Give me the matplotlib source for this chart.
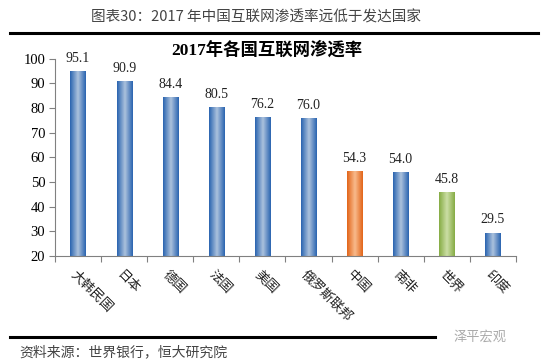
import numpy as np
import matplotlib
matplotlib.use("Agg")
from matplotlib import pyplot as plt
from matplotlib.colors import LinearSegmentedColormap

countries = ["大韩民国", "日本", "德国", "法国", "美国", "俄罗斯联邦", "中国", "南非", "世界", "印度"]
rates = [95.1, 90.9, 84.4, 80.5, 76.2, 76.0, 54.3, 54.0, 45.8, 29.5]
kinds = ["blue"] * 6 + ["orange", "blue", "green", "blue"]
yticks = [20, 30, 40, 50, 60, 70, 80, 90, 100]

palette = {
    "blue": ("#2a64b0", "#a9c0dc"),
    "orange": ("#e2651a", "#f8b98a"),
    "green": ("#86ac45", "#cadda3"),
}

cjk = ["Noto Sans CJK SC", "DejaVu Sans"]
serif = ["Liberation Serif", "Noto Sans CJK SC"]

fig = plt.figure(figsize=(5.5, 3.62), dpi=100)
ax = fig.add_axes([0.1, 0.293, 0.838, 0.545])

base = yticks[0]
x = np.arange(len(countries))
width = 0.33
heights = [v - base for v in rates]
bars = ax.bar(x, heights, width=width, bottom=base, color="none", zorder=2)
grad = np.abs(np.linspace(-1, 1, 64)).reshape(1, -1)
for b, kind in zip(bars, kinds):
    edge, mid = palette[kind]
    cmap = LinearSegmentedColormap.from_list(kind, [mid, edge])
    im = ax.imshow(grad, cmap=cmap, aspect="auto", zorder=2,
                   extent=[b.get_x(), b.get_x() + b.get_width(), b.get_y(), b.get_y() + b.get_height()])
    im.set_clip_path(b)

for xi, v in zip(x, rates):
    ax.text(xi, v + 2.5, f"{v:.1f}", ha="center", va="bottom",
            fontsize=10, family=serif, color="#222222")

ax.set_xlim(-0.5, len(countries) - 0.5)
ax.set_ylim(base, 100)
ax.set_yticks(yticks)
ax.set_yticklabels([str(t) for t in yticks], family=serif, fontsize=10.5)
ax.set_xticks(np.arange(len(countries) + 1) - 0.5)
ax.set_xticklabels([])
ax.tick_params(axis="x", length=4, color="#808080", direction="out")
ax.tick_params(axis="y", length=4, color="#808080", direction="out", pad=3)
for s in ["top", "right"]:
    ax.spines[s].set_visible(False)
for s in ["left", "bottom"]:
    ax.spines[s].set_color("#808080")

for xi, name in zip(x, countries):
    ax.annotate(name, xy=(xi, base), xytext=(-4, -12), textcoords="offset points",
                rotation=-45, rotation_mode="anchor", ha="left", va="center",
                fontsize=9.5, family=cjk, color="#222222", annotation_clip=False)

ax.set_title("2017年各国互联网渗透率", family=["Liberation Serif", "Noto Sans CJK SC"],
             fontweight="bold", fontsize=12.5, pad=-4, x=0.46)

fig.text(0.466, 0.953, "图表30：2017 年中国互联网渗透率远低于发达国家", ha="center", va="center",
         fontsize=10.5, family=cjk, color="#444444")
fig.add_artist(plt.Line2D([0.018, 0.978], [0.908, 0.908], color="black", lw=2.2))
fig.add_artist(plt.Line2D([0.018, 0.79], [0.068, 0.068], color="black", lw=2.2))
fig.text(0.035, 0.028, "资料来源：世界银行，恒大研究院", ha="left", va="center",
         fontsize=10, family=cjk, style="italic", color="#444444")
fig.text(0.92, 0.07, "泽平宏观", ha="right", va="center",
         fontsize=9.5, family=cjk, color="#aaaaaa")

fig.savefig("out.png", dpi=100, facecolor="white")
